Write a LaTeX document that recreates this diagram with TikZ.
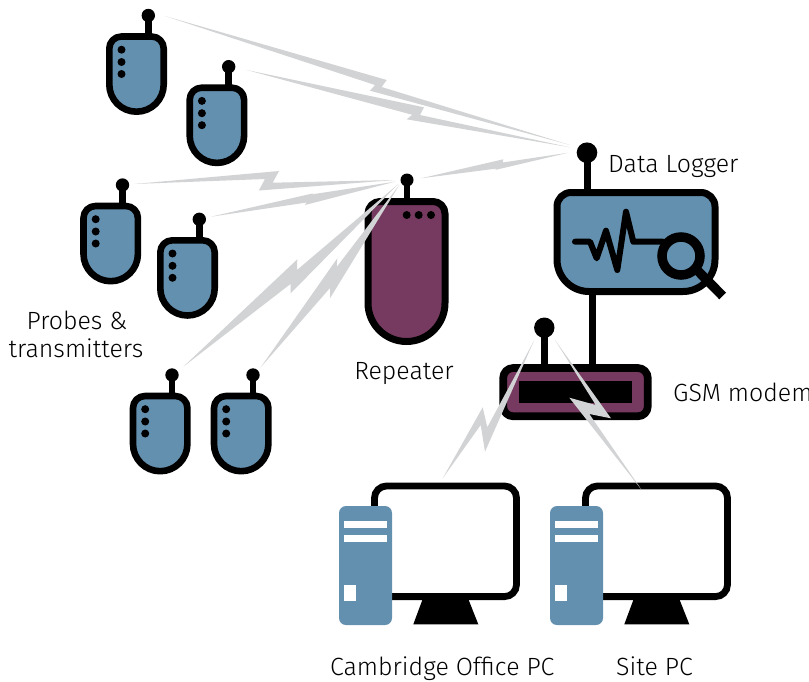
\documentclass[tikz,border=0pt]{standalone}
\usepackage{fontspec}
\setmainfont{Fira Sans Light}
\definecolor{devblue}{HTML}{6490B0}
\definecolor{devpurple}{HTML}{763A60}
\definecolor{boltgrey}{HTML}{D1D3D4}
\tikzset{
  outline/.style={draw=black,line width=6.6pt,line join=round},
  stem/.style={draw=black,line width=6.5pt},
  bolt/.style={fill=boltgrey,draw=none},
  label/.style={inner sep=0pt,font=\fontsize{24.9}{28}\selectfont,text=black,align=center},
  probe/.pic={
    \begin{scope}[yscale=-1]
    \draw[stem] (0,0) -- (0,21);
    \fill (0,0) circle[radius=6.7];
    \draw[outline,fill=devblue] (-39,69) -- (-39,33) arc[start angle=180,end angle=270,radius=12] -- (3.4,21)
      arc[start angle=270,end angle=360,radius=12] -- (15.4,69)
      arc[start angle=0,end angle=180,radius=27.2] -- cycle;
    \foreach \yy in {34.2,46.5,58.5} \fill (-26.8,\yy) circle[radius=4];
    \end{scope}
  },
  pcset/.pic={
    \begin{scope}[yscale=-1]
    \draw[draw=black,line width=6.8pt,fill=white,rounded corners=12] (374.5,486) rectangle (516.5,596.6);
    \fill (422.7,599) -- (468.3,599) -- (478.3,624.3) -- (413.3,624.3) -- cycle;
    \fill[devblue,rounded corners=7] (339,506) rectangle (392,625);
    \fill[white] (344,521) rectangle (387,528);
    \fill[white] (344,535) rectangle (387,542);
    \fill[white] (344,585) rectangle (356,600.7);
    \end{scope}
  }
}
\begin{document}
\begin{tikzpicture}[x=1pt,y=1pt,yscale=-1]
\useasboundingbox (0,0) rectangle (809,681);
% probes
\pic (p1) at (148.3,15.5) {probe};
\pic (p2) at (228.7,66.7) {probe};
\pic (p3) at (122.5,185) {probe};
\pic (p4) at (199.3,219.3) {probe};
\pic (p5) at (172,375) {probe};
\pic (p6) at (253,375) {probe};
% repeater
\draw[stem] (407,180) -- (407,201);
\fill (407,180) circle[radius=6.5];
\draw[outline,line width=7pt,fill=devpurple] (368,213.5) arc[start angle=180,end angle=270,radius=12] -- (433,201.5)
  arc[start angle=270,end angle=360,radius=12] -- (445,303)
  arc[start angle=0,end angle=180,radius=38.5] -- cycle;
\foreach \xx in {406.7,418.7,431} \fill (\xx,215) circle[radius=4];
% data logger
\draw[stem,line width=7pt] (587,152) -- (587,192);
\fill (587,152.7) circle[radius=10.3];
\draw[stem,line width=6.5pt] (592.7,291) -- (592.7,368);
\draw[outline,line width=7pt,fill=devblue] (557,206.5) arc[start angle=180,end angle=270,radius=14] -- (701,192.5)
  arc[start angle=270,end angle=360,radius=14] -- (715,259.5)
  arc[start angle=0,end angle=90,radius=32] -- (589,291.5)
  arc[start angle=90,end angle=180,radius=32] -- cycle;
\draw[line width=6pt,line cap=round,line join=round] (575,241.7) -- (590,241.7) -- (596.7,258.3) -- (606,230.7) -- (617.3,270) -- (626,211.7) -- (633.3,241.7) -- (663,241.7);
\draw[line width=9.5pt] (681,256) circle[radius=19];
\draw[line width=9.5pt] (698,271) -- (722.7,296);
% modem
\draw[stem,line width=7pt] (544.5,327.7) -- (544.5,368);
\fill (544.3,327.7) circle[radius=10.2];
\draw[outline,line width=7.7pt,fill=devpurple,rounded corners=10] (503.2,368) rectangle (647.8,416.3);
\fill (519,380.7) rectangle (632.3,403.3);
% computers
\pic (pc1) at (0,0) {pcset};
\pic (pc2) at (211,0) {pcset};
% radio links
\fill[bolt] (165,16) -- (386.7,80) -- (381.7,87) -- (570,145) -- (370,90.7) -- (375,85) -- cycle;
\fill[bolt] (246.7,70) -- (424,107.3) -- (420,115) -- (570,147.3) -- (406.7,119.3) -- (412.3,114.8) -- cycle;
\fill[bolt] (421,178.3) -- (503.3,159.3) -- (502.7,162.5) -- (568.3,152.7) -- (495,170) -- (497,168.5) -- cycle;
\fill[bolt] (134,184) -- (279,171) -- (272.7,182.7) -- (395,180) -- (258.8,190.5) -- (265,179) -- cycle;
\fill[bolt] (211,216.7) -- (313.3,193.3) -- (311,194.5) -- (395,181.7) -- (305,205) -- (306.7,202.5) -- cycle;
\fill[bolt] (183.3,366.7) -- (297.3,259.3) -- (297,270) -- (398.3,184) -- (290.7,293.3) -- (290.5,284) -- cycle;
\fill[bolt] (260.7,367.3) -- (337.3,258.3) -- (336.7,267) -- (399.3,185) -- (330,298.3) -- (330,288) -- cycle;
\fill[bolt] (534,340.7) -- (487.3,427.3) -- (482.7,407.3) -- (442.7,478.3) -- (480.7,425) -- (485,451.7) -- cycle;
\fill[bolt] (555,340) -- (595.7,405) -- (569.3,397.7) -- (641.7,490) -- (589.3,414) -- (611,418.3) -- cycle;
% labels
\node[label,anchor=base west] (tlogger) at (608,172) {Data Logger};
\node[label,anchor=base] (tprobes) at (77,329) {Probes \&};
\node[label,anchor=base] (ttrans) at (76,357) {transmitters};
\node[label,anchor=base] (trep) at (404,379) {Repeater};
\node[label,anchor=base west] (tgsm) at (673,401) {GSM modem};
\node[label,anchor=base west] (tcam) at (330,675) {Cambridge Office PC};
\node[label,anchor=base west] (tsite) at (616,675) {Site PC};
\end{tikzpicture}
\end{document}
